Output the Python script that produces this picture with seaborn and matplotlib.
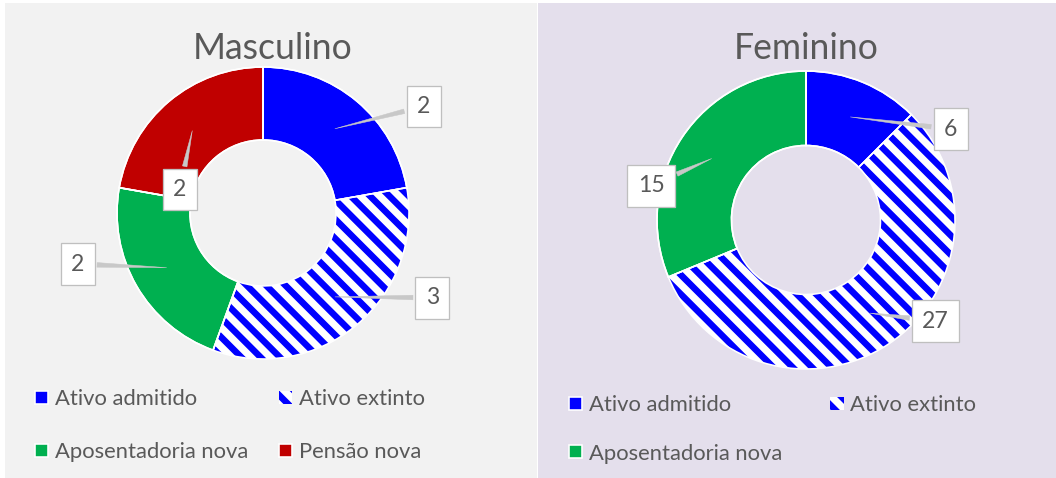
import numpy as np
import matplotlib.pyplot as plt
import seaborn as sns
from matplotlib.patches import Rectangle

# data
categorias = ['Ativo admitido', 'Ativo extinto', 'Aposentadoria nova', 'Pensão nova']
cores = ['#0000ff', '#0000ff', '#00b050', '#c00000']
masc_vals = [2, 3, 2, 2]
fem_vals = [6, 27, 15]

# label box positions (radius units, relative to ring centre)
masc_lbl_pos = [(1.10, 0.73), (1.16, -0.58), (-1.27, -0.35), (-0.57, 0.16)]
fem_lbl_pos = [(0.97, 0.61), (0.87, -0.68), (-1.04, 0.23)]

W, H, DPI = 1056, 478, 58


def pt(px):
    # pixel size -> points at this dpi
    return px * 72 / DPI


sns.set_theme(style='white')
plt.rcParams['font.family'] = ['Lato', 'DejaVu Sans']
plt.rcParams['hatch.linewidth'] = pt(6.5)

fig = plt.figure(figsize=((W + 0.01) / DPI, (H + 0.01) / DPI), dpi=DPI)
fig.patch.set_facecolor('white')
txt = '#595959'

# panel backgrounds
fig.patches.append(Rectangle((5 / W, 0), 532 / W, 475 / H, transform=fig.transFigure,
                             facecolor='#f2f2f2', edgecolor='none', zorder=-10))
fig.patches.append(Rectangle((538 / W, 0), 518 / W, 475 / H, transform=fig.transFigure,
                             facecolor='#e4dfec', edgecolor='none', zorder=-10))


def donut(cx, cy, r, vals, lbl_pos, title, title_x):
    ax = fig.add_axes([(cx - r) / W, 1 - (cy + r) / H, 2 * r / W, 2 * r / H])
    n = len(vals)
    wp = dict(width=0.5, edgecolor='white', linewidth=pt(1.6))
    wedges, _ = ax.pie(vals, colors=cores[:n], startangle=90, counterclock=False,
                       radius=1, wedgeprops=wp)
    # hatched slice: white face, blue stripes
    w = wedges[1]
    w.set_facecolor('white')
    w.set_edgecolor('#0000ff')
    w.set_linewidth(0)
    w.set_hatch('\\')
    # white outlines on top
    ax.pie(vals, colors=['none'] * n, startangle=90, counterclock=False, radius=1,
           wedgeprops=dict(wp, facecolor='none'))
    ax.set_xlim(-1, 1)
    ax.set_ylim(-1, 1)
    ax.axis('off')

    for wd, v, (lx, ly) in zip(wedges, vals, lbl_pos):
        ang = np.deg2rad((wd.theta1 + wd.theta2) / 2)
        px, py = 0.75 * np.cos(ang), 0.75 * np.sin(ang)
        ax.annotate(str(v), xy=(px, py), xytext=(lx, ly), ha='center', va='center',
                    fontsize=pt(23), color=txt, zorder=10, annotation_clip=False,
                    bbox=dict(boxstyle='square,pad=0.45', fc='white', ec='#bfbfbf', lw=pt(1.3)),
                    arrowprops=dict(arrowstyle='wedge,tail_width=0.2,shrink_factor=0.5',
                                    fc='#c8c8c8', ec='#c8c8c8', lw=pt(0.5)))
    fig.text(title_x / W, 1 - 48 / H, title, ha='center', va='center',
             fontsize=pt(35.5), color=txt)
    return wedges


mw = donut(263, 213, 146, masc_vals, masc_lbl_pos, 'Masculino', 273)
fw = donut(806, 220, 149, fem_vals, fem_lbl_pos, 'Feminino', 806)

leg_kw = dict(frameon=False, ncol=2, fontsize=pt(22), handlelength=0.6, handleheight=0.55,
              handletextpad=0.3, borderpad=0, borderaxespad=0, loc='upper left',
              labelcolor=txt)
ordem = [0, 2, 1, 3]
fig.legend([mw[i] for i in ordem], [categorias[i] for i in ordem],
           bbox_to_anchor=(35 / W, 1 - 389 / H), labelspacing=1.5,
           columnspacing=1.4, **leg_kw)
ordem_f = [0, 2, 1]
fig.legend([fw[i] for i in ordem_f], [categorias[i] for i in ordem_f],
           bbox_to_anchor=(569 / W, 1 - 395 / H), labelspacing=1.3,
           columnspacing=2.2, **leg_kw)

fig.savefig('out.png', dpi=DPI)
